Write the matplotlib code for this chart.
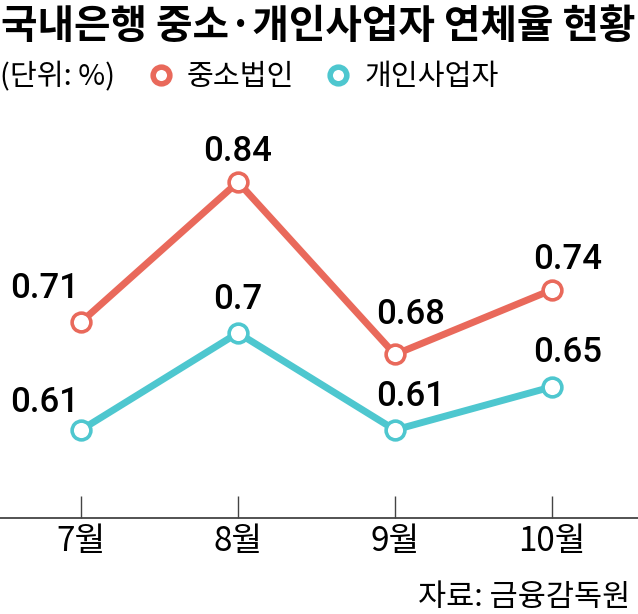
import matplotlib
matplotlib.use("Agg")
import matplotlib.pyplot as plt
from matplotlib.lines import Line2D

plt.rcParams['font.family'] = ['Noto Sans CJK KR', 'DejaVu Sans']

months = ["7월", "8월", "9월", "10월"]
sme = [0.71, 0.84, 0.68, 0.74]
personal = [0.61, 0.70, 0.61, 0.65]
sme_labels = ["0.71", "0.84", "0.68", "0.74"]
personal_labels = ["0.61", "0.7", "0.61", "0.65"]

RED = "#E9695B"
TEAL = "#4EC7CF"

fig = plt.figure(figsize=(6.38, 6.14), dpi=100)
ax = fig.add_axes([0, 1 - 518 / 614, 1, (518 - 120) / 614])

x = list(range(len(months)))
for ys, c in [(sme, RED), (personal, TEAL)]:
    ax.plot(x, ys, color=c, lw=5, marker="o", ms=13.5, mfc="white",
            mec=c, mew=2.6, solid_capstyle="round", zorder=3)

# value labels: offsets in points from the marker
offsets_sme = [(-26, 24), (0, 22), (11, 29), (11, 22)]
offsets_personal = [(-26, 20), (0, 24), (11, 24), (11, 25)]
for i in x:
    ax.annotate(sme_labels[i], (i, sme[i]), xytext=offsets_sme[i],
                textcoords="offset points", ha="center", va="center",
                fontsize=25, family="Roboto", fontweight="medium", color="black")
    ax.annotate(personal_labels[i], (i, personal[i]), xytext=offsets_personal[i],
                textcoords="offset points", ha="center", va="center",
                fontsize=25, family="Roboto", fontweight="medium", color="black")

ax.set_xlim(-81 / 157, (638 - 81) / 157)
ax.set_ylim(0.84 - (518 - 182) / 1078, 0.84 + (182 - 120) / 1078)

for s in ["top", "right", "left"]:
    ax.spines[s].set_visible(False)
ax.spines["bottom"].set_color("#444444")
ax.spines["bottom"].set_linewidth(1.3)
ax.set_yticks([])
ax.set_xticks(x)
ax.set_xticklabels(months, fontsize=24)
ax.tick_params(axis="x", direction="in", length=16, width=1, color="#444444", pad=4)

fig.text(0.002, 1 - 26 / 614, "국내은행 중소·개인사업자 연체율 현황", fontsize=28.6,
         fontweight="bold", ha="left", va="center")
fig.text(0.0, 1 - 77 / 614, "(단위: %)", fontsize=21, ha="left", va="center")

handles = [Line2D([], [], ls="none", marker="o", ms=12, mfc="white", mec=RED, mew=4),
           Line2D([], [], ls="none", marker="o", ms=12, mfc="white", mec=TEAL, mew=4)]
fig.legend(handles, ["중소법인", "개인사업자"], loc="center left",
           bbox_to_anchor=(146 / 638, 1 - 77 / 614), ncol=2, frameon=False,
           fontsize=21, handlelength=1.0, handletextpad=0.4, columnspacing=1.0,
           borderaxespad=0, borderpad=0)

fig.text(0.988, 1 - 597 / 614, "자료: 금융감독원", fontsize=22, ha="right", va="center")

fig.savefig("out.png", dpi=100)
